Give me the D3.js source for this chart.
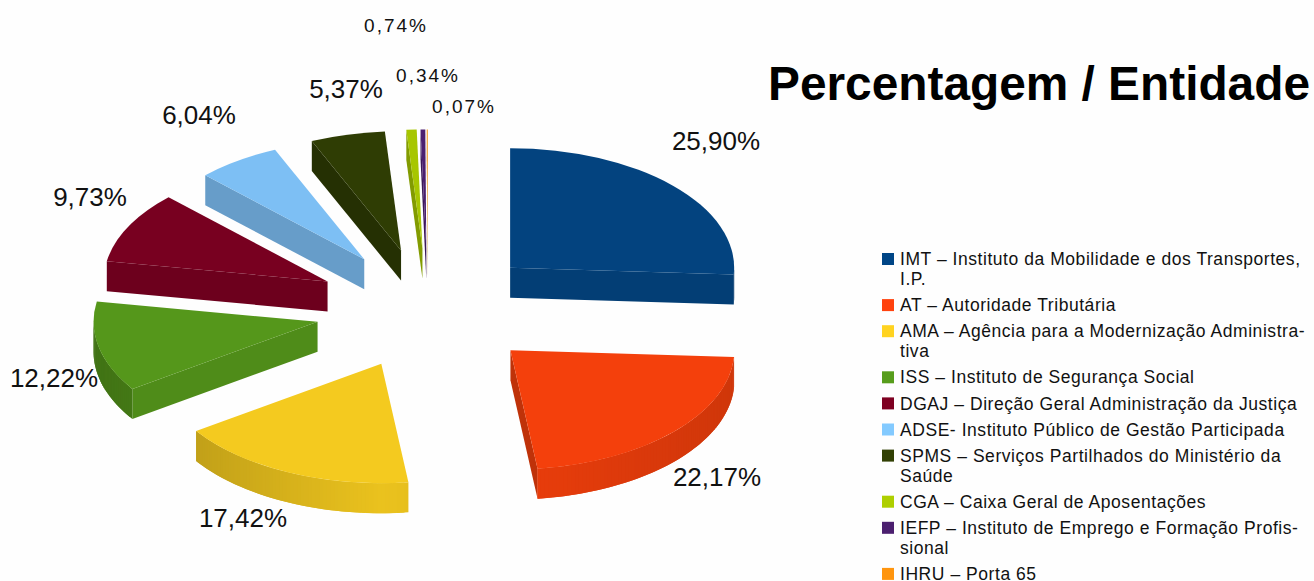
<!DOCTYPE html>
<html>
<head>
<meta charset="utf-8">
<script src="https://cdn.jsdelivr.net/npm/d3@7"></script>
<style>
  html, body { margin: 0; padding: 0; background: #fefefe; }
  svg { display: block; font-family: "Liberation Sans", Arial, sans-serif; }
</style>
</head>
<body>
<svg width="1314" height="581"></svg>
<script>
const title = 'Percentagem / Entidade';
const values = [25.90, 22.17, 17.42, 12.22, 9.73, 6.04, 5.37, 0.74, 0.34, 0.07];
const valueLabels = ['25,90%', '22,17%', '17,42%', '12,22%', '9,73%', '6,04%', '5,37%', '0,74%', '0,34%', '0,07%'];
const topColors = ['#03437f', '#f4400c', '#f4ca1f', '#55971b', '#780020', '#7dbff4', '#2f3d04', '#a7c600', '#4b1f6f', '#f0900e'];
const keyColors = ['#004586', '#ff420e', '#ffd320', '#579d1c', '#7e0021', '#83caff', '#314004', '#aecf00', '#4b1f6f', '#ff950e'];
const legendLines = [
  ['IMT – Instituto da Mobilidade e dos Transportes,', 'I.P.'],
  ['AT – Autoridade Tributária'],
  ['AMA – Agência para a Modernização Administra-', 'tiva'],
  ['ISS – Instituto de Segurança Social'],
  ['DGAJ – Direção Geral Administração da Justiça'],
  ['ADSE- Instituto Público de Gestão Participada'],
  ['SPMS – Serviços Partilhados do Ministério da', 'Saúde'],
  ['CGA – Caixa Geral de Aposentações'],
  ['IEFP – Instituto de Emprego e Formação Profis-', 'sional'],
  ['IHRU – Porta 65']
];

// hand placed label centres, big ones first, the last three are the small spaced ones
const labelX = [716, 717, 243, 54, 90, 199, 346, 396, 428, 464];
const labelY = [141, 477, 518, 378, 197, 115, 89, 25, 75, 106];

const cx = 428, cy = 309;
const rx = 224, tilt = 0.533;
const explode = 113, depth = 30;

const svg = d3.select('svg');
const g = svg.append('g');

const pie = d3.pie().sort(null).value(d => d);
const arc = d3.arc().innerRadius(0).outerRadius(rx);
const line = d3.line();

const point = (a, dz) => [rx * Math.sin(a), -rx * tilt * Math.cos(a) + dz];
const shade = (c, k) => {
  const col = d3.rgb(c);
  return d3.rgb(col.r * k, col.g * k, col.b * k).formatHex();
};
// n is the angle the face looks towards, faces turned left get darker
const faceShade = n => 0.93 - 0.15 * Math.max(0, -Math.sin(n));
const wallShade = a => {
  const s = Math.sin(a);
  return s > 0 ? 0.96 - 0.11 * s : 0.96 + 0.2 * s;
};

pie(values).forEach((s, i) => {
  const mid = (s.startAngle + s.endAngle) / 2;
  const slice = g.append('g')
    .attr('transform', `translate(${cx + explode * Math.sin(mid)},${cy - explode * tilt * Math.cos(mid)})`);
  const c = topColors[i];

  // only the cut face turned towards the viewer gets drawn
  [[s.startAngle, s.startAngle - Math.PI / 2], [s.endAngle, s.endAngle + Math.PI / 2]].forEach(([a, n]) => {
    if (Math.cos(n) >= 0) return;
    slice.append('path')
      .attr('d', line([[0, 0], point(a, 0), point(a, depth), [0, depth]]) + 'Z')
      .attr('fill', shade(c, faceShade(n)));
  });

  // outer wall in strips, each one runs a bit under the next to hide seams
  const from = Math.max(s.startAngle, Math.PI / 2);
  const to = Math.min(s.endAngle, Math.PI * 1.5);
  const step = Math.PI / 180;
  for (let a = from; a < to; a += step) {
    const b = Math.min(a + step * 2, to);
    slice.append('path')
      .attr('d', line([point(a, 0), point(b, 0), point(b, depth), point(a, depth)]) + 'Z')
      .attr('fill', shade(c, wallShade(a + step / 2)));
  }

  slice.append('path')
    .attr('transform', `scale(1,${tilt})`)
    .attr('d', arc(s))
    .attr('fill', c);
});

g.selectAll('.value-label')
  .data(valueLabels)
  .enter().append('text')
  .attr('class', 'value-label')
  .attr('x', (_, i) => labelX[i])
  .attr('y', (_, i) => labelY[i])
  .attr('dy', '0.35em')
  .attr('text-anchor', 'middle')
  .attr('fill', '#111')
  .attr('font-size', (_, i) => i < 7 ? 26 : 19)
  .attr('letter-spacing', (_, i) => i < 7 ? 0 : 2)
  .text(d => d);

svg.append('text')
  .attr('x', 768)
  .attr('y', 100)
  .attr('font-size', 48)
  .attr('font-weight', 'bold')
  .attr('fill', '#000')
  .attr('textLength', 542)
  .attr('lengthAdjust', 'spacingAndGlyphs')
  .text(title);

const legend = svg.append('g');
let y = 259;
legendLines.forEach((lines, i) => {
  legend.append('rect')
    .attr('x', 882)
    .attr('y', y - 6)
    .attr('width', 12)
    .attr('height', 12)
    .attr('fill', keyColors[i]);
  lines.forEach((t, j) => {
    legend.append('text')
      .attr('x', 900)
      .attr('y', y + j * 20)
      .attr('dy', '0.35em')
      .attr('font-size', 17.5)
      .attr('letter-spacing', 0.55)
      .attr('fill', '#111')
      .text(t);
  });
  y += (lines.length - 1) * 20 + 26.1;
});
</script>
</body>
</html>
